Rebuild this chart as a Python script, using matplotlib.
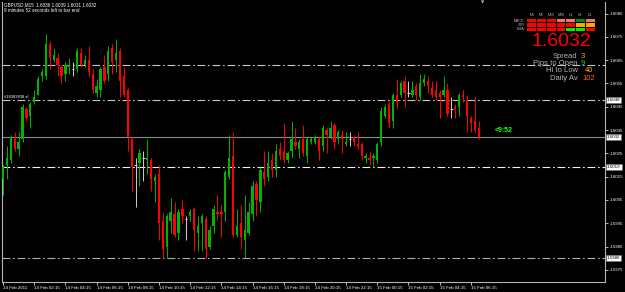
import matplotlib
matplotlib.use("Agg")
import matplotlib.pyplot as plt
import numpy as np
from matplotlib.patches import Rectangle
from matplotlib.transforms import blended_transform_factory

plt.rcParams['font.family'] = ['Liberation Sans', 'DejaVu Sans']

W, H, DPI = 625, 292, 100

# ---------------- data (GBPUSD M15) ----------------
opens = [1.6014, 1.6020, 1.6022, 1.6031, 1.6027, 1.6031, 1.6044, 1.6041, 1.6047, 1.6050,
         1.6058, 1.6058, 1.6072, 1.6065, 1.6066, 1.6062, 1.6059, 1.6062, 1.6061, 1.6061,
         1.6068, 1.6063, 1.6065, 1.6059, 1.6051, 1.6052, 1.6062, 1.6059, 1.6070, 1.6065,
         1.6069, 1.6058, 1.6052, 1.6031, 1.6020, 1.6021, 1.6023, 1.6022, 1.6022, 1.6013,
         1.6016, 1.5996, 1.5985, 1.5996, 1.5999, 1.5991, 1.6001, 1.5997, 1.5998, 1.6001,
         1.5991, 1.5995, 1.5997, 1.5985, 1.5994, 1.6000, 1.6000, 1.6000, 1.6015, 1.6024,
         1.5990, 1.5995, 1.5988, 1.5991, 1.5999, 1.6012, 1.6004, 1.6017, 1.6015, 1.6022,
         1.6018, 1.6027, 1.6026, 1.6022, 1.6026, 1.6030, 1.6027, 1.6031, 1.6024, 1.6030,
         1.6030, 1.6031, 1.6028, 1.6035, 1.6032, 1.6037, 1.6031, 1.6033, 1.6029, 1.6031,
         1.6032, 1.6029, 1.6029, 1.6023, 1.6023, 1.6023, 1.6022, 1.6030, 1.6041, 1.6046,
         1.6039, 1.6050, 1.6050, 1.6056, 1.6051, 1.6050, 1.6054, 1.6049, 1.6055, 1.6056,
         1.6053, 1.6052, 1.6051, 1.6050, 1.6052, 1.6044, 1.6045, 1.6045, 1.6050, 1.6048,
         1.6040, 1.6039, 1.6036]
highs = [1.6020, 1.6028, 1.6033, 1.6034, 1.6034, 1.6046, 1.6045, 1.6047, 1.6052, 1.6058,
         1.6061, 1.6076, 1.6073, 1.6070, 1.6068, 1.6063, 1.6064, 1.6066, 1.6064, 1.6070,
         1.6070, 1.6067, 1.6071, 1.6061, 1.6057, 1.6062, 1.6067, 1.6071, 1.6072, 1.6074,
         1.6070, 1.6062, 1.6053, 1.6032, 1.6023, 1.6027, 1.6026, 1.6031, 1.6023, 1.6016,
         1.6020, 1.6000, 1.5999, 1.6006, 1.6004, 1.6001, 1.6005, 1.5998, 1.6001, 1.6002,
         1.5998, 1.5999, 1.5998, 1.5994, 1.6003, 1.6007, 1.6003, 1.6018, 1.6033, 1.6034,
         1.6001, 1.6003, 1.6007, 1.6004, 1.6013, 1.6013, 1.6019, 1.6026, 1.6026, 1.6025,
         1.6029, 1.6030, 1.6038, 1.6026, 1.6039, 1.6036, 1.6031, 1.6037, 1.6032, 1.6032,
         1.6033, 1.6032, 1.6037, 1.6036, 1.6039, 1.6038, 1.6035, 1.6035, 1.6034, 1.6034,
         1.6033, 1.6034, 1.6030, 1.6025, 1.6026, 1.6025, 1.6030, 1.6045, 1.6046, 1.6047,
         1.6051, 1.6057, 1.6056, 1.6058, 1.6056, 1.6056, 1.6055, 1.6059, 1.6059, 1.6058,
         1.6056, 1.6056, 1.6052, 1.6058, 1.6055, 1.6049, 1.6046, 1.6051, 1.6052, 1.6050,
         1.6041, 1.6049, 1.6039]
lows = [1.6007, 1.6014, 1.6021, 1.6026, 1.6024, 1.6030, 1.6039, 1.6036, 1.6046, 1.6050,
        1.6056, 1.6057, 1.6061, 1.6064, 1.6058, 1.6055, 1.6056, 1.6059, 1.6058, 1.6060,
        1.6062, 1.6062, 1.6058, 1.6051, 1.6049, 1.6049, 1.6055, 1.6056, 1.6059, 1.6060,
        1.6049, 1.6049, 1.6026, 1.6009, 1.6002, 1.6011, 1.6013, 1.6016, 1.6009, 1.6004,
        1.5988, 1.5980, 1.5980, 1.5991, 1.5989, 1.5988, 1.5995, 1.5988, 1.5996, 1.5983,
        1.5983, 1.5983, 1.5980, 1.5984, 1.5991, 1.5996, 1.5989, 1.5996, 1.6014, 1.5989,
        1.5989, 1.5984, 1.5980, 1.5990, 1.5996, 1.5998, 1.6000, 1.6011, 1.6013, 1.6015,
        1.6015, 1.6022, 1.6021, 1.6021, 1.6023, 1.6027, 1.6023, 1.6024, 1.6021, 1.6029,
        1.6029, 1.6022, 1.6026, 1.6025, 1.6031, 1.6027, 1.6029, 1.6025, 1.6028, 1.6028,
        1.6028, 1.6027, 1.6022, 1.6021, 1.6020, 1.6019, 1.6021, 1.6028, 1.6040, 1.6036,
        1.6036, 1.6044, 1.6049, 1.6045, 1.6049, 1.6049, 1.6048, 1.6048, 1.6054, 1.6051,
        1.6049, 1.6048, 1.6040, 1.6049, 1.6041, 1.6040, 1.6040, 1.6041, 1.6047, 1.6034,
        1.6034, 1.6034, 1.6031]
closes = [1.6019, 1.6023, 1.6032, 1.6027, 1.6030, 1.6045, 1.6040, 1.6046, 1.6049, 1.6057,
          1.6060, 1.6072, 1.6066, 1.6067, 1.6063, 1.6058, 1.6063, 1.6063, 1.6061, 1.6069,
          1.6063, 1.6065, 1.6060, 1.6052, 1.6054, 1.6061, 1.6056, 1.6069, 1.6064, 1.6068,
          1.6056, 1.6050, 1.6032, 1.6019, 1.6020, 1.6025, 1.6023, 1.6023, 1.6014, 1.6015,
          1.5995, 1.5984, 1.5998, 1.6000, 1.5990, 1.6000, 1.5998, 1.5997, 1.6000, 1.5992,
          1.5994, 1.5998, 1.5984, 1.5992, 1.6001, 1.5999, 1.5999, 1.6017, 1.6023, 1.5990,
          1.5994, 1.5989, 1.5992, 1.6000, 1.6011, 1.6005, 1.6018, 1.6014, 1.6021, 1.6018,
          1.6026, 1.6024, 1.6022, 1.6025, 1.6031, 1.6028, 1.6030, 1.6025, 1.6031, 1.6031,
          1.6032, 1.6026, 1.6036, 1.6033, 1.6036, 1.6030, 1.6034, 1.6031, 1.6030, 1.6031,
          1.6030, 1.6028, 1.6024, 1.6024, 1.6022, 1.6024, 1.6029, 1.6043, 1.6045, 1.6038,
          1.6050, 1.6047, 1.6055, 1.6051, 1.6051, 1.6052, 1.6050, 1.6055, 1.6057, 1.6054,
          1.6050, 1.6049, 1.6049, 1.6052, 1.6042, 1.6044, 1.6044, 1.6050, 1.6049, 1.6041,
          1.6038, 1.6035, 1.6032]

time_label_bars = [0, 8, 16, 24, 32, 40, 48, 56, 64, 72, 80, 88, 96, 104, 112, 120]
time_labels = ["14 Feb 2011", "14 Feb 02:15", "14 Feb 04:15", "14 Feb 06:15",
               "14 Feb 08:15", "14 Feb 10:15", "14 Feb 12:15", "14 Feb 14:15",
               "14 Feb 16:15", "14 Feb 18:15", "14 Feb 20:15", "14 Feb 22:15",
               "15 Feb 00:15", "15 Feb 02:15", "15 Feb 04:15", "15 Feb 06:15"]
price_ticks = [1.5975, 1.5985, 1.5995, 1.6005, 1.6015, 1.6025, 1.6035,
               1.6045, 1.6055, 1.6065, 1.6075, 1.6085]
levels = [1.6063, 1.6048, 1.6019, 1.5980]
level_boxes = ["", "1.6048", "1.6019", "1.5980"]
bid = 1.6032
title_line = "GBPUSD,M15  1.6036 1.6039 1.6031 1.6032"
timer_line = "9 minutes 52 seconds left to bar end"
timer_short = "<9:52"

tf_names = ["M1", "M5", "M15", "M30", "H1", "H4", "D1"]
ind_names = ["MACD", "STR", "EMA"]
ind_colors = [
    ["#FF0000", "#FF0000", "#FF0000", "#F07868", "#F07868", "#008C00", "#F07868"],
    ["#FF0000", "#FF0000", "#FF0000", "#FF0000", "#FF0000", "#FFA500", "#FFA500"],
    ["#FF0000", "#FF0000", "#FF0000", "#FF0000", "#00F000", "#00F000", "#FF0000"],
]
stat_names = ["Spread", "Pips to Open", "Hi to Low", "Daily Av"]
stat_values = ["3", "9", "40", "102"]
stat_colors = ["#FFA500", "#20E020", "#FFB000", "#FF6A00"]

# ---------------- figure ----------------
fig = plt.figure(figsize=(W / DPI, H / DPI), dpi=DPI, facecolor="black")
ax = fig.add_axes([2 / W, 10 / H, 603 / W, 280 / H], facecolor="black")
ax.set_xlim(-0.26, 154.4)
ax.set_ylim(1.596977, 1.608994)

o = np.array(opens); h = np.array(highs); l = np.array(lows); c = np.array(closes)
x = np.arange(len(o))
up = c > o
dn = c < o
dj = ~(up | dn)
GREEN, RED, DOJI = "#00B400", "#FF0000", "#D0D0D0"
wick_col = np.where(up, GREEN, np.where(dn, RED, DOJI))

ax.vlines(x, l, h, colors=list(wick_col), linewidth=0.7, zorder=3)
ax.bar(x[up], (c - o)[up], bottom=o[up], width=0.6, color=GREEN, linewidth=0, zorder=4)
ax.bar(x[dn], (o - c)[dn], bottom=c[dn], width=0.6, color=RED, linewidth=0, zorder=4)
ax.hlines(o[dj], x[dj] - 0.3, x[dj] + 0.3, colors=DOJI, linewidth=0.8, zorder=4)

# level lines
lvl_cols = ["#C8C8C8", "#C8C8C8", "#F0F0F0", "#B0B0B0"]
for lv, col in zip(levels, lvl_cols):
    ax.axhline(lv, color=col, linewidth=0.8, linestyle=(0, (7, 2.5, 1.5, 2.5)), zorder=2)
ax.axhline(bid, color="#8C8C8C", linewidth=0.8, zorder=2)

trans = blended_transform_factory(ax.transAxes, ax.transData)
ax.text(0.004, levels[1] + 0.00003, "#18383838 sl", transform=trans, fontsize=3,
        color="white", va="bottom", ha="left")
for lv, lab in zip(levels + [bid], level_boxes + ["1.6032"]):
    if lab:
        ax.text(1.0035, lv, lab, transform=trans, fontsize=3.2, color="black",
                va="center", ha="left", zorder=10, clip_on=False,
                bbox=dict(boxstyle="square,pad=0.18", fc="white", ec="#707070", lw=0.4))

# axes styling
for side in ["left", "right", "bottom"]:
    ax.spines[side].set_color("#B4B4B4")
    ax.spines[side].set_linewidth(0.8)
ax.spines["top"].set_visible(False)
ax.yaxis.tick_right()
ax.set_yticks(price_ticks)
ax.set_yticklabels([f"{p:.4f}" for p in price_ticks])
ax.tick_params(axis="y", colors="white", labelsize=3.2, length=2, width=0.5, pad=1.2)
ax.set_xticks(time_label_bars)
ax.set_xticklabels(time_labels, ha="left")
ax.tick_params(axis="x", colors="white", labelsize=3.2, length=2, width=0.5, pad=0.6)

# ---------------- overlay in pixel coordinates ----------------
ov = fig.add_axes([0, 0, 1, 1], facecolor="none")
ov.set_xlim(0, W)
ov.set_ylim(H, 0)
ov.axis("off")
ov.set_zorder(20)

ov.text(4, 5, title_line, fontsize=3.3, color="white", va="center", ha="left")
ov.text(4, 11, timer_line, fontsize=3.3, color="white", va="center", ha="left")
ov.text(483, 3, "\u25BC", fontsize=3, color="#C0C0C0", va="center", ha="center",
        family=["DejaVu Sans"])

# indicator table
cell_x0, cell_pitch, cell_w = 527.3, 9.75, 8.9
row_y0, row_pitch, row_h = 19.0, 4.3, 3.4
for j, name in enumerate(tf_names):
    ov.text(cell_x0 + j * cell_pitch + cell_w / 2, 15, name, fontsize=2.6,
            color="#B0B0B0", ha="center", va="center")
for i, name in enumerate(ind_names):
    ov.text(524.5, row_y0 + i * row_pitch + row_h / 2, name, fontsize=2.6,
            color="#B0B0B0", ha="right", va="center")
    for j in range(len(tf_names)):
        ov.add_patch(Rectangle((cell_x0 + j * cell_pitch, row_y0 + i * row_pitch),
                               cell_w, row_h, facecolor=ind_colors[i][j], edgecolor="none"))

ov.text(591, 41, f"{bid:.4f}", fontsize=14, color="#FF0000", ha="right", va="center")

stat_y = [56, 63.2, 70.6, 78]
value_x = [580.5, 580.5, 585, 582]
for name, val, col, yy, vx in zip(stat_names, stat_values, stat_colors, stat_y, value_x):
    ov.text(577.5, yy, name, fontsize=5.5, color="#B4B4B4", ha="right", va="center")
    ov.text(vx, yy, val, fontsize=5.5, color=col, ha="left", va="center")

ov.text(495, 131, timer_short, fontsize=5, color="#22FF22", ha="left", va="center",
        fontweight="bold")

fig.savefig("out.png", dpi=DPI, facecolor="black")
